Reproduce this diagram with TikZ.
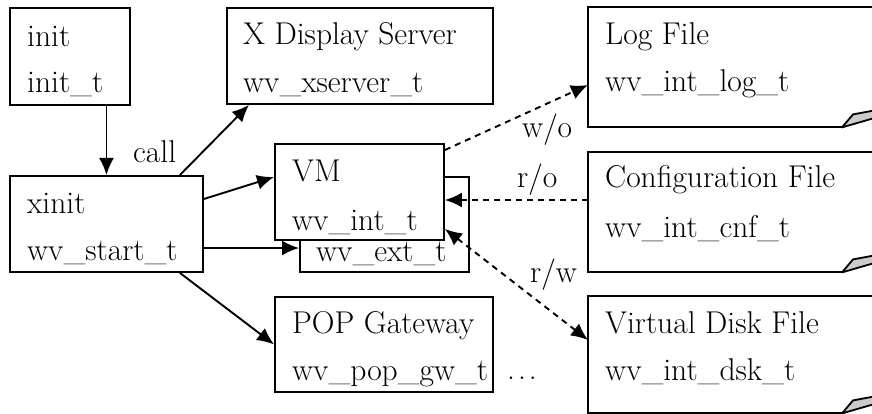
\documentclass[tikz,border=0pt]{standalone}
\usetikzlibrary{arrows.meta,calc}
\begin{document}
\begin{tikzpicture}[x=1pt,y=-1pt,
  >={Latex[length=17pt,width=15pt]},
  box/.style={draw,line width=1.9pt,fill=white,rectangle,inner sep=0pt,anchor=north west},
  filearea/.style={rectangle,inner sep=0pt,anchor=north west,minimum width=300pt},
  lbl/.style={anchor=base west,inner sep=0pt,font=\fontsize{31.5}{36}\selectfont},
  conn/.style={line width=1.9pt,->},
  dconn/.style={conn,dash pattern=on 6pt off 5pt},
  curl/.style={fill=black!20,draw,line width=1.8pt,line join=round}]
\useasboundingbox (0,0) rectangle (872,414);
\clip (0,0) rectangle (872,414);

% process boxes
\node[box,minimum width=120pt,minimum height=97pt] (init) at (9,7) {};
\node[box,minimum width=266pt,minimum height=96pt] (xsrv) at (226,7) {};
\node[box,minimum width=193pt,minimum height=96pt] (xinit) at (9,175) {};
\node[box,minimum width=169pt,minimum height=95pt] (ext) at (299,176) {};
\node[box,minimum width=169pt,minimum height=96pt] (vm) at (274,143) {};
\node[box,minimum width=218pt,minimum height=95pt] (pop) at (274,296) {};

% file areas
\node[filearea,minimum height=120pt] (log) at (588,7) {};
\node[filearea,minimum height=120pt] (cnf) at (588,152) {};
\node[filearea,minimum height=117pt] (dsk) at (588,296) {};

% file outlines with curled corner
\foreach \f in {log,cnf,dsk}{
  \draw[line width=1.9pt] (\f.north east) -- (\f.north west) -- (\f.south west)
    -- ($(\f.south west)+(254,0)$);
  \draw[curl] ($(\f.south west)+(254,0)$) -- ($(\f.south west)+(265,-13)$)
    -- ($(\f.south west)+(292,-18)$) -- ($(\f.south west)+(292,-11)$) -- cycle;
}

% texts
\node[lbl] (t1) at (27,47) {init};
\node[lbl] (t2) at (27,93) {init\_t};
\node[lbl] (t3) at (243,45) {X Display Server};
\node[lbl] (t4) at (243,93) {wv\_xserver\_t};
\node[lbl] (t5) at (27,213) {xinit};
\node[lbl] (t6) at (27,260) {wv\_start\_t};
\node[lbl] (t7) at (292,182) {VM};
\node[lbl] (t8) at (292,230) {wv\_int\_t};
\node[lbl] (t9) at (316,261) {wv\_ext\_t};
\node[lbl] (t10) at (292,333) {POP Gateway};
\node[lbl] (t11) at (292,380) {wv\_pop\_gw\_t};
\node[lbl] (t12) at (605,45) {Log File};
\node[lbl] (t13) at (605,92) {wv\_int\_log\_t};
\node[lbl] (t14) at (605,188) {Configuration File};
\node[lbl] (t15) at (605,237) {wv\_int\_cnf\_t};
\node[lbl] (t16) at (605,333) {Virtual Disk File};
\node[lbl] (t17) at (605,380) {wv\_int\_dsk\_t};
\node[lbl] (dots) at (507,379) {.\kern3pt.\kern3pt.};

% connector labels
\node[lbl] (call) at (133,163) {call};
\node[lbl] (wo) at (522,138) {w/o};
\node[lbl] (ro) at (517,187) {r/o};
\node[lbl] (rw) at (530,282) {r/w};

% solid connectors
\draw[conn] (init.south -| xinit.north) -- (xinit.north);
\draw[conn] ($(xinit.north east)+(-24,0)$) -- ($(xsrv.south west)+(23,0)$);
\draw[conn] ($(xinit.north east)+(0,24)$) -- ($(vm.north west)+(0,34)$);
\draw[conn] ($(xinit.north east)+(0,73)$) -- ($(ext.north west)+(0,72)$);
\draw[conn] ($(xinit.south east)+(-24,0)$) -- (pop.west);

% dashed connectors to files
\draw[dconn] ($(vm.north east)+(0,7)$) -- ($(log.north west)+(0,78)$);
\draw[dconn] ($(cnf.north west)+(0,48)$) -- ($(vm.north east)+(0,57)$);
\draw[dconn,<->] ($(vm.south east)+(0,-12)$) -- ($(dsk.north west)+(0,44)$);
\end{tikzpicture}
\end{document}
